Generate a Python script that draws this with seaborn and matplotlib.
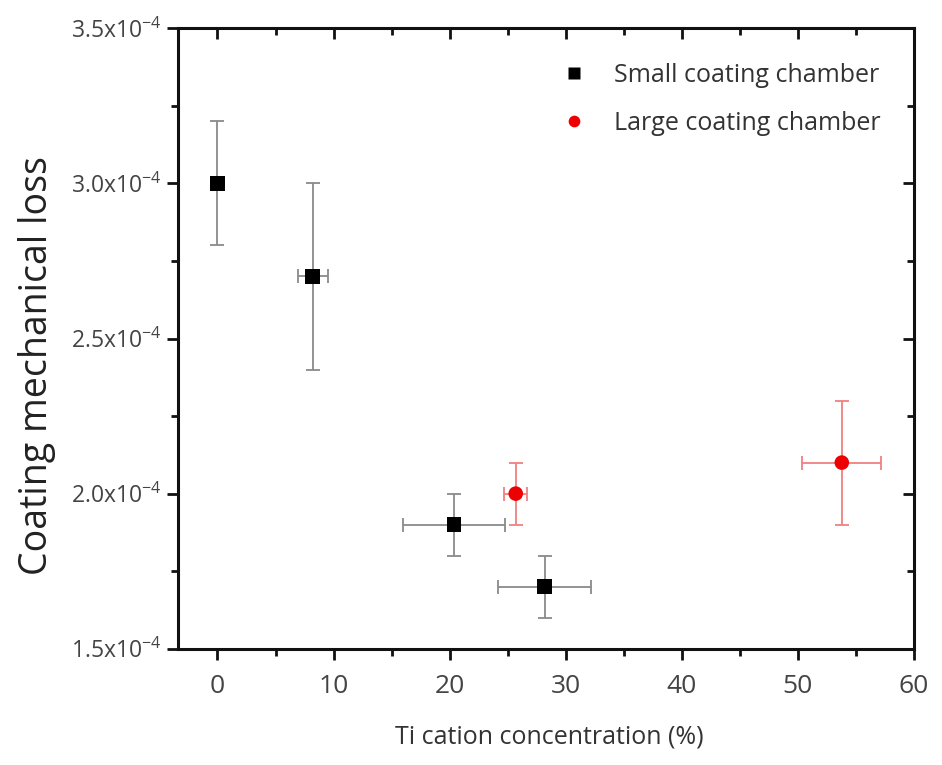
import matplotlib
matplotlib.use("Agg")
import matplotlib.pyplot as plt
from matplotlib.ticker import MultipleLocator, FixedLocator, FixedFormatter
import seaborn as sns
import pandas as pd

# Data
small_x = [0.0, 8.2, 20.4, 28.2]
small_y = [3.0e-4, 2.7e-4, 1.9e-4, 1.7e-4]
small_xerr = [0.0, 1.3, 4.4, 4.0]
small_yerr = [0.2e-4, 0.3e-4, 0.1e-4, 0.1e-4]

large_x = [25.7, 53.8]
large_y = [2.0e-4, 2.1e-4]
large_xerr = [1.0, 3.4]
large_yerr = [0.1e-4, 0.2e-4]

series_names = ["Small coating chamber", "Large coating chamber"]
y_ticks = [1.5e-4, 2.0e-4, 2.5e-4, 3.0e-4, 3.5e-4]
y_tick_labels = ["1.5x10$^{-4}$", "2.0x10$^{-4}$", "2.5x10$^{-4}$", "3.0x10$^{-4}$", "3.5x10$^{-4}$"]
x_ticks = [0, 10, 20, 30, 40, 50, 60]

sns.set_style("white")
plt.rcParams["font.family"] = ["Open Sans", "DejaVu Sans"]
plt.rcParams["mathtext.fontset"] = "custom"
plt.rcParams["mathtext.rm"] = "Open Sans"
plt.rcParams["mathtext.it"] = "Open Sans"
plt.rcParams["xtick.bottom"] = True
plt.rcParams["ytick.left"] = True
plt.rcParams["xtick.top"] = True
plt.rcParams["ytick.right"] = True

df = pd.DataFrame({
    "x": small_x + large_x,
    "y": small_y + large_y,
    "series": [series_names[0]] * len(small_x) + [series_names[1]] * len(large_x),
})

fig = plt.figure(figsize=(9.42, 7.65), dpi=100)
ax = fig.add_axes([0.189, 0.152, 0.781, 0.811])

ax.errorbar(small_x, small_y, xerr=small_xerr, yerr=small_yerr, fmt="none",
            ecolor="#8a8a8a", elinewidth=1.3, capsize=5, capthick=1.3, zorder=2)
ax.errorbar(large_x, large_y, xerr=large_xerr, yerr=large_yerr, fmt="none",
            ecolor="#f08080", elinewidth=1.3, capsize=5, capthick=1.3, zorder=2)

sns.scatterplot(data=df, x="x", y="y", hue="series", style="series",
                palette={series_names[0]: "black", series_names[1]: "#ee0000"},
                markers={series_names[0]: "s", series_names[1]: "o"},
                s=110, edgecolor="none", ax=ax, zorder=3)

ax.set_xlim(-3.4, 60)
ax.set_ylim(1.5e-4, 3.5e-4)
ax.xaxis.set_major_locator(FixedLocator(x_ticks))
ax.xaxis.set_minor_locator(MultipleLocator(5))
ax.yaxis.set_major_locator(FixedLocator(y_ticks))
ax.yaxis.set_major_formatter(FixedFormatter(y_tick_labels))
ax.yaxis.set_minor_locator(MultipleLocator(0.25e-4))

for s in ax.spines.values():
    s.set_linewidth(2.2)
    s.set_color("#111111")

ax.tick_params(axis="both", which="both", bottom=True, left=True, top=False, right=False)
ax.tick_params(axis="both", which="major", direction="out", length=8, width=2,
               colors="#111111", labelcolor="#444444")
ax.tick_params(axis="x", which="major", labelsize=19, pad=10)
ax.tick_params(axis="y", which="major", labelsize=16.5, pad=4)
ax.tick_params(axis="both", which="minor", direction="out", length=5, width=2, colors="#111111")

# top/right inward ticks
axt = ax.secondary_xaxis("top")
axt.xaxis.set_major_locator(FixedLocator(x_ticks))
axt.xaxis.set_minor_locator(MultipleLocator(5))
axt.tick_params(which="both", top=True, labeltop=False, colors="#111111")
axt.tick_params(which="major", direction="in", length=8, width=2)
axt.tick_params(which="minor", direction="in", length=5, width=2)
axr = ax.secondary_yaxis("right")
axr.yaxis.set_major_locator(FixedLocator(y_ticks))
axr.yaxis.set_minor_locator(MultipleLocator(0.25e-4))
axr.tick_params(which="both", right=True, labelright=False, colors="#111111")
axr.tick_params(which="major", direction="in", length=8, width=2)
axr.tick_params(which="minor", direction="in", length=5, width=2)
for sa in (axt, axr):
    for s in sa.spines.values():
        s.set_visible(False)

ax.set_xlabel("Ti cation concentration (%)", fontsize=18, color="#333333", va="center")
ax.xaxis.set_label_coords(0.505, -0.142)
ax.set_ylabel("Coating mechanical loss", fontsize=27, color="#222222", va="center")
ax.yaxis.set_label_coords(-0.192, 0.457)

leg = ax.legend(loc="upper right", bbox_to_anchor=(0.985, 0.98), frameon=False,
                fontsize=18, handletextpad=0.6, labelspacing=0.9, markerscale=0.8)
for t in leg.get_texts():
    t.set_color("#333333")

fig.savefig("out.png", dpi=100)
